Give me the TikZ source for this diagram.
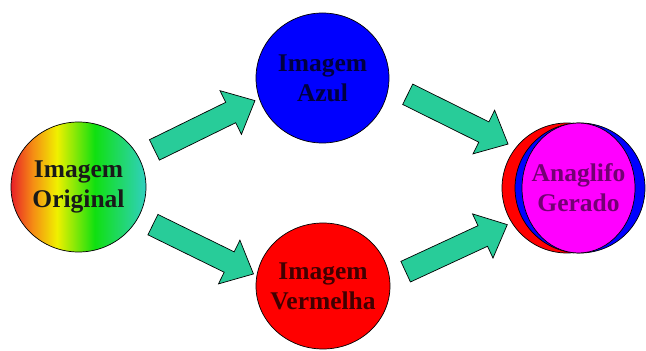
\documentclass[tikz,border=0pt]{standalone}
\usepackage{fontspec}
\setmainfont{Liberation Serif}
\usetikzlibrary{shapes.geometric,shapes.arrows}

\definecolor{verdeseta}{RGB}{40,204,153}
\definecolor{vermelho}{RGB}{255,0,0}
\definecolor{azul}{RGB}{0,0,255}
\definecolor{magenta}{RGB}{255,0,255}
\definecolor{arcoR}{RGB}{232,32,40}
\definecolor{arcoO}{RGB}{245,140,20}
\definecolor{arcoY}{RGB}{240,240,0}
\definecolor{arcoG}{RGB}{16,224,16}
\definecolor{arcoC}{RGB}{48,208,192}
\pgfdeclarehorizontalshading{arcoiris}{100bp}{color(0bp)=(arcoR); color(25bp)=(arcoR); color(33bp)=(arcoO); color(42bp)=(arcoY); color(56bp)=(arcoG); color(75bp)=(arcoC); color(100bp)=(arcoC)}

\begin{document}
\begin{tikzpicture}[x=1pt,y=1pt,
  bola/.style={ellipse,draw=black,line width=0.7pt,inner sep=0pt},
  rotulo/.style={align=center,inner sep=0pt,font=\fontsize{25.5}{30}\selectfont\bfseries},
  seta/.style={single arrow,draw=black,line width=0.7pt,fill=verdeseta,inner xsep=0pt,inner ysep=11pt,
    minimum height=112pt,single arrow head extend=13pt,single arrow tip angle=84,sloped,midway}]
  \useasboundingbox (0,0) rectangle (646,351);
  % Imagem original
  \node[bola,shading=arcoiris,minimum width=135pt,minimum height=130pt] (orig) at (78.5,164) {};
  \node[rotulo,text=black!90] (origT) at (orig) {Imagem\\Original};
  % Imagem azul
  \node[bola,fill=azul,minimum width=133pt,minimum height=130pt] (az) at (322.5,273) {};
  \node[rotulo,text=azul!25!black] (azT) at (az) {Imagem\\Azul};
  % Imagem vermelha
  \node[bola,fill=vermelho,minimum width=134pt,minimum height=126pt] (verm) at (323,65) {};
  \node[rotulo,text=vermelho!25!black] (vermT) at (verm) {Imagem\\Vermelha};
  % Anaglifo gerado
  \node[bola,fill=vermelho,minimum width=130pt,minimum height=130pt] (anaR) at (567,163) {};
  \node[bola,fill=azul,minimum width=130pt,minimum height=130pt] (anaB) at (580,163) {};
  \node[bola,fill=magenta,minimum width=113pt,minimum height=130pt] (anag) at (578.5,163) {};
  \node[rotulo,text=magenta!45!black] (anagT) at (anag) {Anaglifo\\Gerado};
  % Setas
  \path (orig.26) -- node[seta] {} (az.198);
  \path (orig.-27) -- node[seta] {} (verm.171);
  \path (az.-6) -- node[seta] {} (anaR.142);
  \path (verm.6) -- node[seta] {} (anaR.-148);
\end{tikzpicture}
\end{document}
